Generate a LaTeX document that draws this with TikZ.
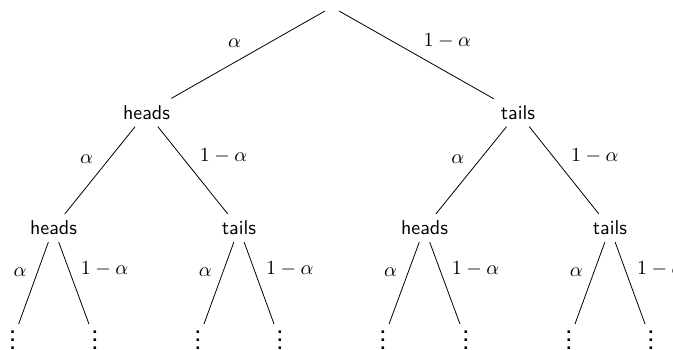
\documentclass[tikz,border=0pt]{standalone}
\begin{document}
\begin{tikzpicture}[x=0.5pt,y=-0.5pt,
  every node/.style={font=\sffamily},
  dotsnode/.style={anchor=north},
  lbl/.style={font=\normalfont},
  edgeline/.style={draw=black,line width=0.4pt}]
\useasboundingbox (0,0) rectangle (673,349);
\newcommand{\mydots}{\vbox{\baselineskip4pt\lineskiplimit0pt\lineskip0pt\hbox{\bfseries.}\hbox{\bfseries.}\hbox{\bfseries.}}}
% nodes
\node (R) at (332,7) {};
\node (H) at (146.5,112.5) {heads};
\node (T) at (518,112.5) {tails};
\node (HH) at (53.5,228) {heads};
\node (HT) at (239,228) {tails};
\node (TH) at (424.5,228) {heads};
\node (TT) at (610,228) {tails};
\node[dotsnode] (V1) at (12.7,324) {\mydots};
\node[dotsnode] (V2) at (95,324) {\mydots};
\node[dotsnode] (V3) at (198,324) {\mydots};
\node[dotsnode] (V4) at (280,324) {\mydots};
\node[dotsnode] (V5) at (383,324) {\mydots};
\node[dotsnode] (V6) at (466,324) {\mydots};
\node[dotsnode] (V7) at (569,324) {\mydots};
\node[dotsnode] (V8) at (651,324) {\mydots};
% edges
\draw[edgeline] (R) -- node[lbl,above left]{$\alpha$} (H);
\draw[edgeline] (R) -- node[lbl,above right]{$1-\alpha$} (T);
\draw[edgeline] (H) -- node[lbl,above left]{$\alpha$} (HH);
\draw[edgeline] (H) -- node[lbl,above right]{$1-\alpha$} (HT);
\draw[edgeline] (T) -- node[lbl,above left]{$\alpha$} (TH);
\draw[edgeline] (T) -- node[lbl,above right]{$1-\alpha$} (TT);
\draw[edgeline] (HH) -- node[lbl,above left]{$\alpha$} (V1);
\draw[edgeline] (HH) -- node[lbl,above right]{$1-\alpha$} (V2);
\draw[edgeline] (HT) -- node[lbl,above left]{$\alpha$} (V3);
\draw[edgeline] (HT) -- node[lbl,above right]{$1-\alpha$} (V4);
\draw[edgeline] (TH) -- node[lbl,above left]{$\alpha$} (V5);
\draw[edgeline] (TH) -- node[lbl,above right]{$1-\alpha$} (V6);
\draw[edgeline] (TT) -- node[lbl,above left]{$\alpha$} (V7);
\draw[edgeline] (TT) -- node[lbl,above right]{$1-\alpha$} (V8);
\end{tikzpicture}
\end{document}
